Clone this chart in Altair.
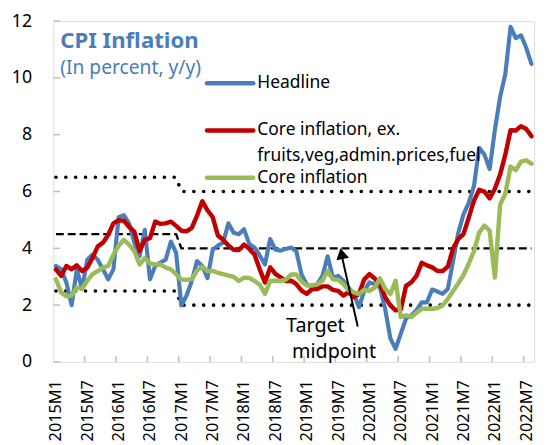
import altair as alt
import pandas as pd

# ---------------- data ----------------
months = [f"{2015 + k // 12}M{k % 12 + 1}" for k in range(92)]  # 2015M1 .. 2022M8

headline = [3.38, 3.26, 2.8, 2.0, 3.26, 2.57, 3.6, 3.78, 3.6, 3.26, 2.91, 3.26,
            5.1, 5.17, 4.88, 4.2, 3.72, 4.65, 2.91, 3.38, 3.5, 3.6, 4.24, 3.84,
            1.99, 2.34, 2.85, 3.55, 3.38, 2.95, 3.95, 4.1, 4.2, 4.88, 4.55, 4.5,
            4.67, 4.15, 4.03, 3.75, 3.43, 4.33, 3.95, 3.92, 3.98, 4.03, 3.9, 3.08,
            2.74, 2.66, 2.74, 3.03, 3.72, 2.97, 3.03, 2.86, 2.62, 2.39, 1.93, 2.5,
            2.8, 2.74, 2.62, 1.87, 0.83, 0.46, 1.0, 1.53, 1.64, 1.82, 2.1, 2.1,
            2.55, 2.48, 2.4, 2.57, 3.55, 4.55, 5.2, 5.6, 6.2, 7.54, 7.3, 6.79,
            8.17, 9.33, 10.14, 11.8, 11.4, 11.5, 11.06, 10.49]

core_ex = [3.26, 3.03, 3.38, 3.26, 3.4, 3.2, 3.32, 3.66, 4.07, 4.2, 4.47, 4.88,
           4.99, 4.97, 4.76, 4.59, 3.9, 4.3, 4.36, 4.94, 4.86, 4.88, 4.94, 4.79,
           4.62, 4.6, 4.72, 5.15, 5.66, 5.34, 5.1, 4.45, 4.3, 4.1, 3.95, 3.94,
           4.13, 3.98, 3.78, 3.26, 2.8, 3.33, 3.1, 2.98, 2.85, 2.86, 2.74, 2.51,
           2.4, 2.56, 2.57, 2.66, 2.66, 2.54, 2.5, 2.34, 2.45, 2.28, 2.39, 2.91,
           3.09, 2.94, 2.74, 2.28, 1.99, 1.82, 1.85, 2.68, 2.8, 3.03, 3.49, 3.4,
           3.33, 3.2, 3.2, 3.36, 4.0, 4.33, 4.5, 5.08, 5.68, 6.06, 6.0, 5.76,
           6.1, 6.6, 7.3, 8.16, 8.15, 8.3, 8.2, 7.95]

core = [2.91, 2.45, 2.31, 2.34, 2.62, 2.57, 2.86, 3.09, 3.2, 3.32, 3.38, 3.78,
        4.09, 4.3, 4.13, 3.9, 3.43, 3.66, 3.47, 3.43, 3.43, 3.32, 3.26, 3.09,
        2.9, 2.89, 2.91, 3.22, 3.35, 3.2, 3.2, 3.14, 3.09, 3.04, 3.0, 2.85,
        2.97, 2.96, 2.85, 2.72, 2.4, 2.85, 2.86, 2.85, 2.9, 3.08, 3.08, 2.83,
        2.69, 2.69, 2.74, 2.86, 3.2, 2.91, 2.89, 2.74, 2.54, 2.45, 2.39, 2.54,
        2.5, 2.62, 2.94, 2.57, 2.39, 2.86, 1.58, 1.64, 1.58, 1.73, 1.87, 1.87,
        1.87, 1.9, 1.99, 2.22, 2.5, 2.77, 3.06, 3.46, 3.9, 4.56, 4.8, 4.62,
        2.97, 5.54, 5.92, 6.88, 6.75, 7.05, 7.1, 6.98]

target_high = [6.5] * 24 + [6.0] * 68
target_mid = [4.5] * 24 + [4.0] * 68
target_low = [2.5] * 24 + [2.0] * 68

tick_label_months = list(range(0, 92, 6))               # 2015M1, 2015M7, ... 2022M7
tick_mark_positions = [5.5 + 6 * k for k in range(15)]  # category boundaries
y_ticks = [0, 2, 4, 6, 8, 10, 12]

df = pd.DataFrame({
    "idx": list(range(92)),
    "month": months,
    "headline": headline,
    "core_ex": core_ex,
    "core": core,
    "t_high": target_high,
    "t_mid": target_mid,
    "t_low": target_low,
})

# ---------------- styling ----------------
FONT = "Noto Sans"
BLUE = "#4A7EBB"
RED = "#C00000"
GREEN = "#9BBB59"
GRAY = "#BFBFBF"

W, H = 488, 346
xscale = alt.Scale(domain=[-0.5, 91.5], nice=False, zero=False)
yscale = alt.Scale(domain=[0, 12], nice=False, zero=False)

label_expr = "'' + (2015 + floor(datum.value / 12)) + 'M' + (datum.value % 12 + 1)"

x_axis = alt.Axis(values=tick_label_months, labelExpr=label_expr, labelAngle=270,
                  labelAlign="right", labelBaseline="middle",
                  labelFontSize=16.5, labelFont=FONT, labelColor="black",
                  labelPadding=18, ticks=False, domain=False, grid=False, title=None,
                  labelOverlap=False, labelFlush=False)
y_axis = alt.Axis(values=y_ticks, labelFontSize=18, labelFont=FONT, labelColor="black",
                  labelPadding=22, ticks=False, domain=False, grid=False, title=None,
                  labelFlush=False, labelOverlap=False)

base = alt.Chart(df)


def line(col, color, width, dash=None, cap="round"):
    kw = dict(color=color, strokeWidth=width, strokeJoin="round", strokeCap=cap)
    if dash is not None:
        kw["strokeDash"] = dash
    return base.mark_line(**kw).encode(
        x=alt.X("idx:Q", scale=xscale, axis=x_axis),
        y=alt.Y(f"{col}:Q", scale=yscale, axis=y_axis),
    )


dot_high = line("t_high", "black", 3.6, dash=[0.1, 9.9])
dash_mid = line("t_mid", "black", 2.4, dash=[8, 4], cap="butt")
dot_low = line("t_low", "black", 3.6, dash=[0.1, 9.9])

l_head = line("headline", BLUE, 4.2)
l_coreex = line("core_ex", RED, 4.5)
l_core = line("core", GREEN, 4.5)

# inward tick marks
xt = alt.Chart(pd.DataFrame({"idx": tick_mark_positions})).mark_rule(
    color=GRAY, strokeWidth=1.5).encode(
    x=alt.X("idx:Q", scale=xscale, axis=x_axis), y=alt.value(H), y2=alt.value(H - 6))
yt = alt.Chart(pd.DataFrame({"headline": y_ticks})).mark_rule(
    color=GRAY, strokeWidth=1.5).encode(
    y=alt.Y("headline:Q", scale=yscale, axis=y_axis), x=alt.value(0), x2=alt.value(7))

one = pd.DataFrame({"a": [0]})


def txt(s, x, y, size=17.7, color="black", weight="normal", align="left", baseline="middle"):
    return alt.Chart(one).mark_text(text=s, font=FONT, fontSize=size, color=color,
                                    fontWeight=weight, align=align, baseline=baseline).encode(
        x=alt.value(x), y=alt.value(y))


def sample(color, y):
    return alt.Chart(one).mark_rule(color=color, strokeWidth=4.5, strokeCap="round").encode(
        x=alt.value(156), x2=alt.value(203), y=alt.value(y))


title = txt("CPI Inflation", 7, 27, size=22.5, color=BLUE, weight="bold", baseline="alphabetic")
subtitle = txt("(In percent, y/y)", 7, 54, size=19.5, color=BLUE, baseline="alphabetic")

leg = [
    sample(BLUE, 63), txt("Headline", 207, 63),
    sample(RED, 111), txt("Core inflation, ex.", 207, 111),
    txt("fruits,veg,admin.prices,fuel", 207, 137),
    sample(GREEN, 159), txt("Core inflation", 207, 159),
]

# arrow to target midpoint
arrow_line = alt.Chart(one).mark_rule(color="black", strokeWidth=2).encode(
    x=alt.value(309), y=alt.value(310), x2=alt.value(292.5), y2=alt.value(237))
arrow_head = alt.Chart(one).mark_point(shape="triangle-up", filled=True, color="black",
                                       size=170, angle=348, opacity=1).encode(
    x=alt.value(292.6), y=alt.value(236))
t1 = txt("Target", 266, 310, size=20, align="center")
t2 = txt("midpoint", 285, 336, size=20, align="center")

chart = alt.layer(
    dot_high, dash_mid, dot_low, xt, yt,
    l_head, l_coreex, l_core,
    title, subtitle, *leg, arrow_line, arrow_head, t1, t2,
).properties(
    width=W, height=H,
    autosize=alt.AutoSizeParams(type="none"),
    padding={"left": 46, "top": 10, "right": 5, "bottom": 81},
).configure_view(
    stroke=GRAY, strokeWidth=2
).configure(font=FONT)

chart.save("out.html", embed_options={"renderer": "svg", "actions": False})
